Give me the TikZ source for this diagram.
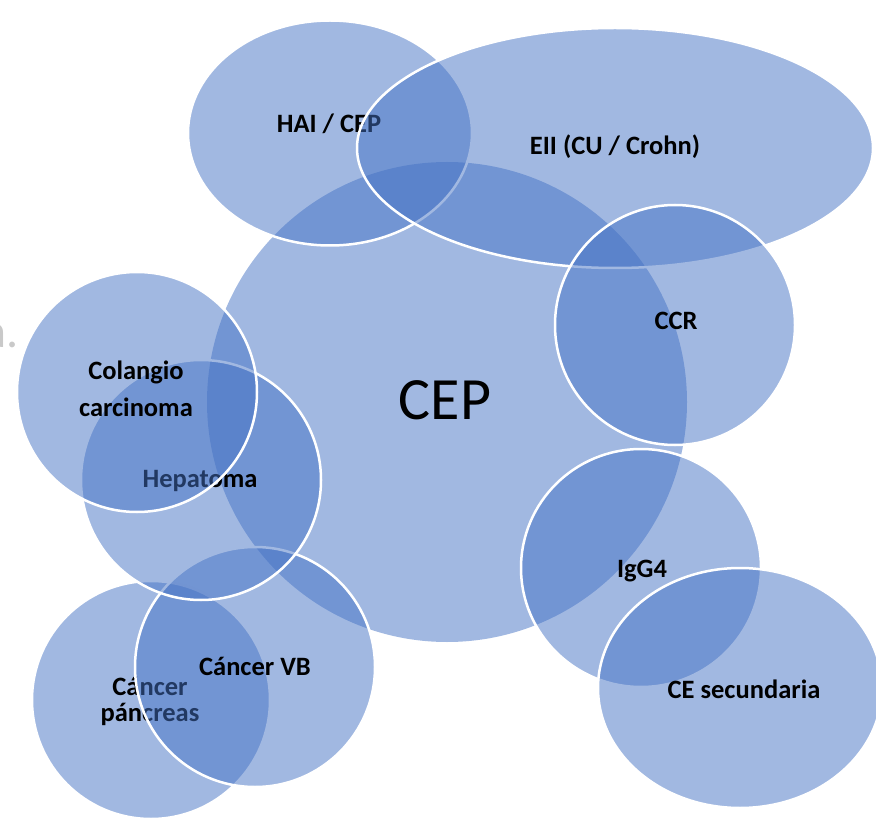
\documentclass[tikz,border=0pt]{standalone}
\usepackage{fontspec}
\setmainfont{Carlito}
\usetikzlibrary{shapes.geometric}
\definecolor{setblue}{HTML}{4472C4}
\definecolor{faintgray}{HTML}{C9C9C9}
\begin{document}
\begin{tikzpicture}[x=1pt,y=-1pt,
  blob/.style={ellipse, inner sep=0pt, fill=setblue, fill opacity=0.5,
               draw=white, line width=2.5pt},
  core/.style={blob, draw=none},
  tag/.style={font=\fontsize{26.5}{30}\selectfont\bfseries, text=black,
              align=center, inner sep=0pt, anchor=base},
  bigtag/.style={font=\fontsize{60}{72}\selectfont, text=black,
                 inner sep=0pt, anchor=base}]
\clip (0,0) rectangle (876,818);
\useasboundingbox (0,0) rectangle (876,818);

% stray fragment of text at the left edge
\node[font=\fontsize{48}{56}\selectfont, text=faintgray, inner sep=0pt,
      anchor=base east] (frag) at (19,348) {a.};

% central set
\node[core, minimum width=480pt, minimum height=480pt] (cep) at (447,402) {};
\node[bigtag] (cepT) at (445,420) {CEP};

% upper sets
\node[blob, minimum width=284pt, minimum height=225pt] (hai) at (330,133) {};
\node[tag] (haiT) at (329,133) {HAI / CEP};
\node[blob, minimum width=516pt, minimum height=240pt] (eii) at (615,148) {};
\node[tag] (eiiT) at (615,155) {EII (CU / Crohn)};
\node[blob, minimum width=240pt, minimum height=240pt] (ccr) at (675,325) {};
\node[tag] (ccrT) at (676,330) {CCR};

% lower left sets (base anchor of a two-line tag sits on its last line)
\node[blob, minimum width=238pt, minimum height=238pt] (pan) at (151,700) {};
\node[tag, font=\fontsize{26.5}{26}\selectfont\bfseries] (panT) at (150,721) {Cáncer\\páncreas};
\node[blob, minimum width=240pt, minimum height=240pt] (vb) at (255,667) {};
\node[tag] (vbT) at (255,675) {Cáncer VB};
\node[blob, minimum width=240pt, minimum height=240pt] (hep) at (201,480) {};
\node[tag] (hepT) at (200,487) {Hepatoma};
\node[blob, minimum width=240pt, minimum height=240pt] (col) at (137,392) {};
\node[tag, font=\fontsize{26.5}{37}\selectfont\bfseries] (colT) at (136,417) {Colangio\\carcinoma};

% lower right sets
\node[blob, minimum width=240pt, minimum height=238pt] (igg) at (641,568) {};
\node[tag] (iggT) at (642,577) {IgG4};
\node[blob, minimum width=284pt, minimum height=240pt] (ces) at (740,688) {};
\node[tag] (cesT) at (744,698) {CE secundaria};
\end{tikzpicture}
\end{document}
